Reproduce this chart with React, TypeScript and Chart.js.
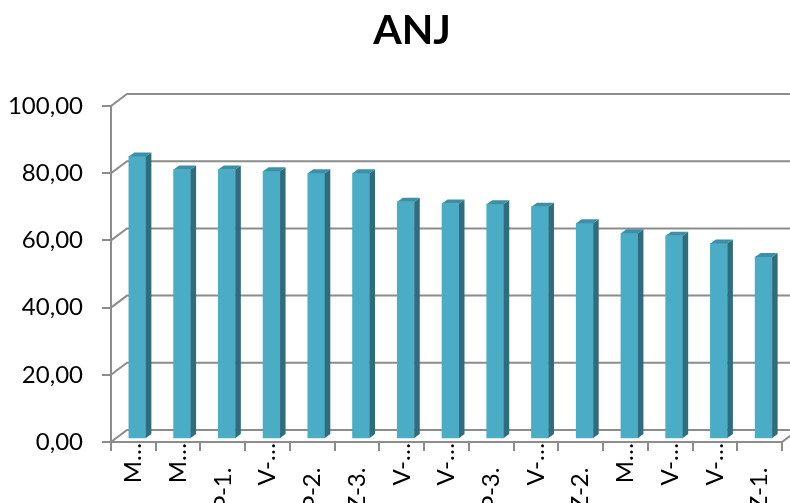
import React, { useEffect, useRef } from 'react';
import { Chart, registerables } from 'chart.js';

Chart.register(...registerables);

const chartTitle = 'ANJ';
const categories = [
  'M…', 'M…', 'P-1.    ', 'V-…', 'P-2.    ', 'Z-3.    ', 'V-…', 'V-…',
  'P-3.    ', 'V-…', 'Z-2.    ', 'M…', 'V-…', 'V-…', 'Z-1.    ',
];
const values = [84.1, 80.2, 80.2, 79.7, 79.1, 79.1, 70.6, 70.1, 69.9, 69.1, 64.2, 61.2, 60.5, 58.2, 54.2];
const yMin = 0;
const yMax = 100;
const yStep = 20;

const FONT = 'Lato, "Open Sans", sans-serif';
const GRID = '#8c8c8c';
const FRONT = '#4BACC6';
const SIDE = '#2F6C7C';
const TOP = '#3C8FA5';
const DEPTH_X = 16;
const DEPTH_Y = 12;
const BAR_DX = 4;
const BAR_DY = 3;
const SIDE_X = 5.5;
const SIDE_Y = 4;

const threeD = {
  id: 'threeD',
  beforeDatasetsDraw(chart: any) {
    const { ctx, chartArea: a } = chart;
    const y = chart.scales.y;
    ctx.save();
    ctx.strokeStyle = GRID;
    ctx.lineWidth = 2;
    y.ticks.forEach((t: any) => {
      const py = y.getPixelForValue(t.value);
      ctx.beginPath();
      ctx.moveTo(a.left, py);
      ctx.lineTo(a.left + DEPTH_X, py - DEPTH_Y);
      ctx.lineTo(t.value === 0 ? a.right + DEPTH_X : chart.width, py - DEPTH_Y);
      if (t.value === 0) ctx.lineTo(a.right, py);
      ctx.stroke();
    });
    ctx.restore();
    ctx.save();
    ctx.translate(BAR_DX, -BAR_DY);
  },
  afterDatasetsDraw(chart: any) {
    const { ctx } = chart;
    const meta = chart.getDatasetMeta(0);
    meta.data.forEach((bar: any) => {
      const { x, y, base, width } = bar.getProps(['x', 'y', 'base', 'width'], true);
      const l = x - width / 2;
      const r = x + width / 2;
      ctx.fillStyle = SIDE;
      ctx.beginPath();
      ctx.moveTo(r, y);
      ctx.lineTo(r + SIDE_X, y - SIDE_Y);
      ctx.lineTo(r + SIDE_X, base - SIDE_Y);
      ctx.lineTo(r, base);
      ctx.closePath();
      ctx.fill();
      ctx.fillStyle = TOP;
      ctx.beginPath();
      ctx.moveTo(l, y);
      ctx.lineTo(l + SIDE_X, y - SIDE_Y);
      ctx.lineTo(r + SIDE_X, y - SIDE_Y);
      ctx.lineTo(r, y);
      ctx.closePath();
      ctx.fill();
    });
    ctx.restore();
  },
  afterDraw(chart: any) {
    const { ctx } = chart;
    ctx.save();
    ctx.fillStyle = '#000';
    ctx.font = 'bold 41px ' + FONT;
    ctx.textAlign = 'center';
    ctx.textBaseline = 'alphabetic';
    ctx.fillText(chartTitle, 412, 44);
    ctx.restore();
  },
};

export default function App() {
  const ref = useRef<HTMLCanvasElement | null>(null);
  useEffect(() => {
    if (!ref.current) return;
    const chart = new Chart(ref.current, {
      type: 'bar',
      data: {
        labels: categories,
        datasets: [
          {
            data: values,
            backgroundColor: FRONT,
            borderWidth: 0,
            barThickness: 17,
          },
        ],
      },
      options: {
        responsive: false,
        animation: false,
        layout: { padding: { top: 106, right: 8, bottom: 0, left: 0 } },
        plugins: { legend: { display: false }, title: { display: false }, tooltip: { enabled: false } },
        scales: {
          x: {
            afterFit: (s: any) => { s.height = 61; },
            grid: { drawOnChartArea: false, drawTicks: true, tickLength: 9, color: GRID, lineWidth: 2, offset: true },
            border: { display: true, color: GRID, width: 2 },
            ticks: {
              autoSkip: false,
              maxRotation: 90,
              minRotation: 90,
              padding: -8,
              color: '#000',
              font: { family: FONT, size: 24 },
            },
          },
          y: {
            min: yMin,
            max: yMax,
            afterFit: (s: any) => { s.width = 111; },
            grid: { drawOnChartArea: false, drawTicks: true, tickLength: 9, color: GRID, lineWidth: 2 },
            border: { display: true, color: GRID, width: 2 },
            ticks: {
              stepSize: yStep,
              padding: 19,
              color: '#000',
              font: { family: FONT, size: 24 },
              callback: (v: any) => Number(v).toFixed(2).replace('.', ','),
            },
          },
        },
      },
      plugins: [threeD],
    });
    return () => chart.destroy();
  }, []);
  return (
    <div style={{ position: 'fixed', left: 0, top: 0, width: 790, height: 503, background: '#fff' }}>
      <canvas ref={ref} width={790} height={503} />
    </div>
  );
}
